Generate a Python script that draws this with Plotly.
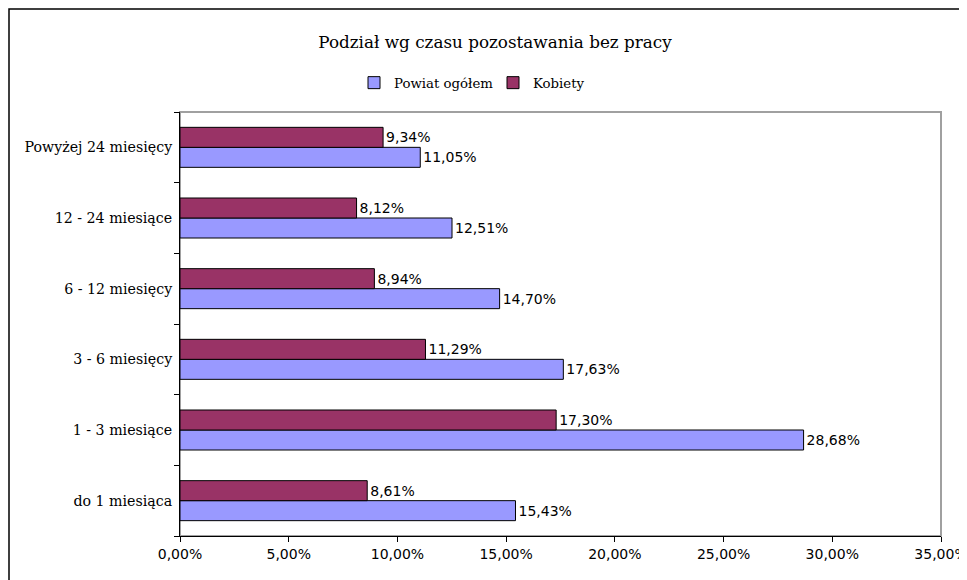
import plotly.graph_objects as go

categories = ["do 1 miesiąca", "1 - 3 miesiące", "3 - 6 miesięcy",
              "6 - 12 miesięcy", "12 - 24 miesiące", "Powyżej 24 miesięcy"]
powiat = [15.43, 28.68, 17.63, 14.70, 12.51, 11.05]
kobiety = [8.61, 17.30, 11.29, 8.94, 8.12, 9.34]
x_ticks = [0, 5, 10, 15, 20, 25, 30, 35]
x_tick_labels = ["0,00%", "5,00%", "10,00%", "15,00%", "20,00%", "25,00%", "30,00%", "35,00%"]

def fmt(v):
    return f"{v:.2f}".replace(".", ",") + "%"

# page has an 8px body margin -> work in figure coordinates (page - 8)
OFF = 8
W, H = 967 - OFF, 580 - OFF
L, R, T, B = 180 - OFF, 941 - OFF, 112 - OFF, 536 - OFF

fig = go.Figure()
fig.add_trace(go.Bar(
    y=categories, x=powiat, orientation="h", name="Powiat ogółem",
    marker=dict(color="#9999FF", line=dict(color="#000000", width=1)),
    text=[fmt(v) for v in powiat], textposition="outside", cliponaxis=False,
    textfont=dict(family="DejaVu Sans", size=14, color="#000000"),
))
fig.add_trace(go.Bar(
    y=categories, x=kobiety, orientation="h", name="Kobiety",
    marker=dict(color="#993366", line=dict(color="#000000", width=1)),
    text=[fmt(v) for v in kobiety], textposition="outside", cliponaxis=False,
    textfont=dict(family="DejaVu Sans", size=14, color="#000000"),
))

fig.update_layout(
    width=W, height=H,
    margin=dict(l=L, r=W - R, t=T, b=H - B, pad=0, autoexpand=False),
    paper_bgcolor="white", plot_bgcolor="white",
    barmode="group", bargap=0.434, bargroupgap=0,
    showlegend=True,
    title=dict(text="Podział wg czasu pozostawania bez pracy",
               x=(495 - OFF) / W, xanchor="center", xref="container",
               y=1 - (42 - OFF) / H, yanchor="middle", yref="container",
               font=dict(family="DejaVu Serif", size=16.8, color="#000000")),
    legend=dict(orientation="h", x=(493 - OFF - L) / (R - L), xref="paper", xanchor="center",
                y=1 + (T - (83 - OFF)) / (B - T), yanchor="middle",
                font=dict(family="DejaVu Serif", size=13.3, color="#000000"),
                itemwidth=30, entrywidth=94, traceorder="normal", bgcolor="rgba(0,0,0,0)"),
)
fig.update_xaxes(range=[0, 35], tickvals=x_ticks, ticktext=x_tick_labels,
                 showgrid=False, zeroline=False, showline=True, linecolor="#000000", linewidth=1,
                 ticks="outside", ticklen=5, tickcolor="#000000", ticklabeloverflow="allow",
                 tickfont=dict(family="DejaVu Sans", size=14, color="#000000"))
fig.update_yaxes(categoryorder="array", categoryarray=categories,
                 showgrid=False, zeroline=False, showline=True, linecolor="#000000", linewidth=1,
                 ticks="outside", ticklen=5, tickcolor="#000000", tickson="boundaries",
                 ticklabelstandoff=4,
                 tickfont=dict(family="DejaVu Serif", size=14.2, color="#000000"))

# plot-area frame (gray) and outer chart border (black)
fig.add_shape(type="rect", xref="paper", yref="paper", x0=0, x1=1, y0=0, y1=1,
              line=dict(color="#A0A0A0", width=2), layer="below")
fig.add_shape(type="rect", xref="paper", yref="paper",
              x0=(1 - L) / (R - L), x1=(W + 10 - L) / (R - L),
              y0=(B - (H + 10)) / (B - T), y1=(B - 1) / (B - T),
              line=dict(color="#000000", width=1.5), layer="below")

fig.write_html("out.html")
